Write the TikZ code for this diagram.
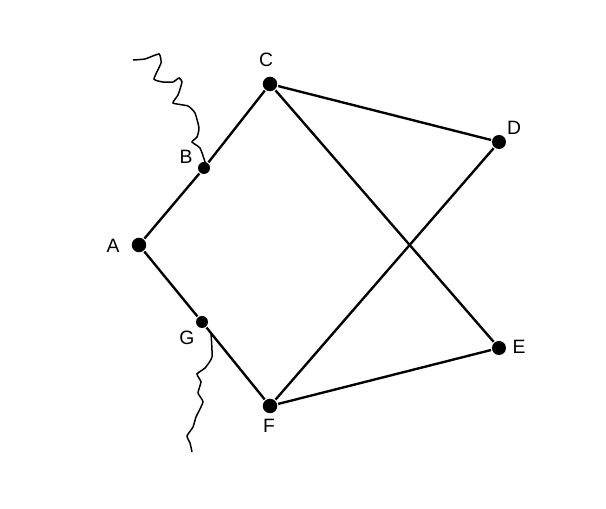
\documentclass[tikz,border=0pt]{standalone}
\usepackage{fontspec}
\setmainfont{Liberation Sans}
\begin{document}
\begin{tikzpicture}[x=0.02cm, y=-0.02cm, line width=1.35pt]
        \tikzstyle{bigdot}=[circle, fill=black, inner sep=0pt, minimum size=0.29cm]
        \tikzstyle{meddot}=[circle, fill=black, inner sep=0pt, minimum size=0.28cm]
        \tikzstyle{smalldot}=[circle, fill=black, inner sep=0pt, minimum size=0.24cm]
        \tikzstyle{lab}=[inner sep=0pt, font=\fontsize{11}{13}\selectfont]
        \useasboundingbox (0,0) rectangle (606,509);

        \node[bigdot] (A) at (139,245) {};
        \node[smalldot] (B) at (204,168) {};
        \node[bigdot] (C) at (270,84) {};
        \node[meddot] (D) at (499,142) {};
        \node[meddot] (E) at (499,348) {};
        \node[bigdot] (F) at (270,406) {};
        \node[smalldot] (G) at (202,322) {};

        \node[lab] (LA) at (113,246) {A};
        \node[lab] (LB) at (186,157) {B};
        \node[lab] (LC) at (266,60) {C};
        \node[lab] (LD) at (514,128) {D};
        \node[lab] (LE) at (519,347) {E};
        \node[lab] (LF) at (269,426) {F};
        \node[lab] (LG) at (187,338) {G};

        \draw (A)--(B);
        \draw (B)--(C);
        \draw (C)--(D);
        \draw (C)--(E);
        \draw (A)--(G);
        \draw (G)--(F);
        \draw (F)--(D);
        \draw (F)--(E);

        \tikzstyle{wiggle}=[line width=0.85pt, smooth, tension=0.3]
        \coordinate (W1) at (133,60);
        \coordinate (W2) at (192,452);
        \coordinate (W3) at (211,333);
        \draw[wiggle] plot coordinates {(W1) (145,59) (159,54) (161,63) (154,79) (163,82) (173,82) (179,78) (182,82) (178,95) (173,103) (188,106) (195,113) (199,128) (197,137) (192,142) (200,148) (205,162) (B.center)};
        \draw[wiggle] plot coordinates {(W3) (212,357) (205,368) (197,374) (201,382) (198,393) (203,402) (196,417) (193,427) (187,436) (190,443) (W2)};
    \end{tikzpicture}
\end{document}
